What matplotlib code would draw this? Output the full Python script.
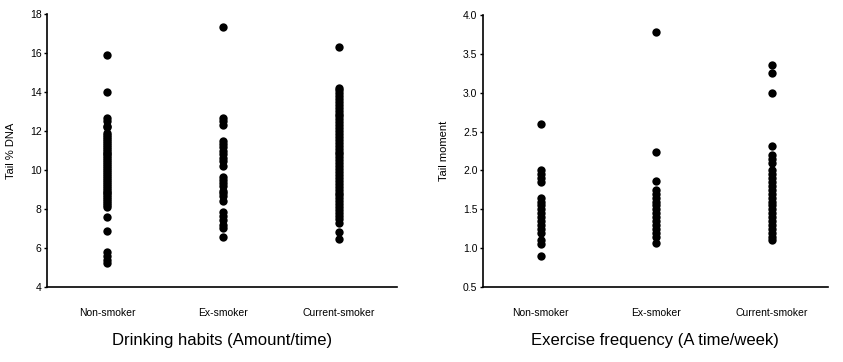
from matplotlib import pyplot as plt
from matplotlib import font_manager

groups = ['Non-smoker', 'Ex-smoker', 'Current-smoker']

# Tail % DNA by group (left panel)
dna_non = [15.9, 14.0, 12.65, 12.5, 12.25, 12.2, 11.9, 11.8, 11.7, 11.6, 11.5, 11.4,
           11.3, 11.2, 11.1, 11.0, 10.9, 10.8, 10.7, 10.6, 10.5, 10.4, 10.3, 10.2,
           10.1, 10.0, 9.9, 9.8, 9.7, 9.6, 9.5, 9.4, 9.3, 9.2, 9.1, 9.0, 8.9, 8.8,
           8.7, 8.6, 8.5, 8.4, 8.3, 8.2, 8.1, 7.6, 6.9, 5.8, 5.6, 5.4, 5.25]
dna_ex = [17.35, 12.65, 12.5, 12.3, 11.5, 11.35, 11.2, 11.0, 10.8, 10.6, 10.45, 10.2,
          9.65, 9.5, 9.35, 9.2, 8.95, 8.8, 8.65, 8.4, 7.85, 7.65, 7.45, 7.2, 7.05, 6.55]
dna_cur = [16.3, 14.2, 14.1, 13.95, 13.8, 13.65, 13.5, 13.35, 13.2, 13.05, 12.9, 12.75,
           12.6, 12.45, 12.3, 12.15, 12.0, 11.85, 11.7, 11.55, 11.4, 11.25, 11.1, 10.95,
           10.8, 10.65, 10.5, 10.35, 10.2, 10.05, 9.9, 9.75, 9.6, 9.45, 9.3, 9.15, 9.0,
           8.85, 8.7, 8.55, 8.4, 8.25, 8.1, 7.95, 7.8, 7.65, 7.5, 7.3, 6.8, 6.45]

# Tail moment by group (right panel)
tm_non = [2.6, 2.0, 1.95, 1.9, 1.85, 1.65, 1.6, 1.55, 1.5, 1.45, 1.4, 1.35, 1.3,
          1.25, 1.2, 1.1, 1.05, 0.9]
tm_ex = [3.78, 2.24, 1.87, 1.75, 1.7, 1.65, 1.6, 1.55, 1.5, 1.45, 1.4, 1.35, 1.3,
         1.25, 1.2, 1.15, 1.07]
tm_cur = [3.35, 3.25, 3.0, 2.32, 2.2, 2.15, 2.1, 2.0, 1.95, 1.9, 1.85, 1.8, 1.75,
          1.7, 1.65, 1.6, 1.55, 1.5, 1.45, 1.4, 1.35, 1.3, 1.25, 1.2, 1.15, 1.1]

names = {f.name for f in font_manager.fontManager.ttflist}
narrow = 'Liberation Sans Narrow' if 'Liberation Sans Narrow' in names else 'Liberation Sans'
plt.rcParams['font.family'] = ['Liberation Sans', 'DejaVu Sans']

fig = plt.figure(figsize=(8.43, 3.62), dpi=100)
ax1 = fig.add_axes([0.0558, 0.207, 0.415, 0.754])
ax2 = fig.add_axes([0.573, 0.207, 0.409, 0.752])


def panel(ax, data, ylim, yticks, fmt, ylabel, title, xlim):
    for i, vals in enumerate(data):
        ax.scatter([i] * len(vals), vals, s=36, color='black', linewidths=0, zorder=3)
    ax.set_xlim(*xlim)
    ax.set_ylim(*ylim)
    ax.set_yticks(yticks)
    ax.set_yticklabels([fmt.format(t) for t in yticks], fontsize=7.5)
    ax.set_xticks(range(len(groups)))
    ax.set_xticklabels(groups, fontsize=7.5)
    ax.tick_params(axis='x', length=0, pad=15)
    ax.tick_params(axis='y', length=2, width=1, pad=2)
    ax.set_ylabel(ylabel, fontsize=8, labelpad=10)
    ax.spines['top'].set_visible(False)
    ax.spines['right'].set_visible(False)
    ax.spines['left'].set_linewidth(1.2)
    ax.spines['bottom'].set_linewidth(1.2)
    ax.set_xlabel(title, fontsize=12, family=[narrow, 'DejaVu Sans'], labelpad=11)


panel(ax1, [dna_non, dna_ex, dna_cur], (4, 18), [4, 6, 8, 10, 12, 14, 16, 18],
      '{:.0f}', 'Tail % DNA', 'Drinking habits (Amount/time)', (-0.52, 2.5))
panel(ax2, [tm_non, tm_ex, tm_cur], (0.5, 4.0), [0.5, 1.0, 1.5, 2.0, 2.5, 3.0, 3.5, 4.0],
      '{:.1f}', 'Tail moment', 'Exercise frequency (A time/week)', (-0.5, 2.485))

plt.savefig('out.png', dpi=100)
